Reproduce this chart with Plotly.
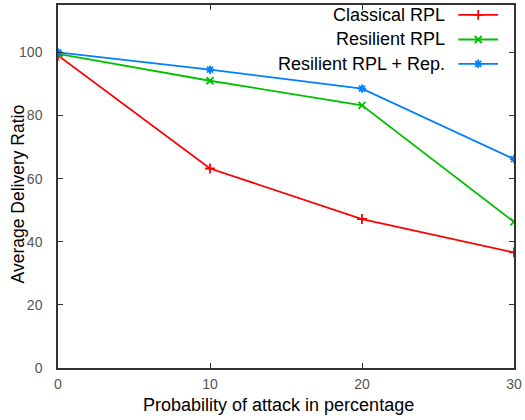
import plotly.graph_objects as go

attack = [0, 10, 20, 30]
classical = [99, 63.2, 47.2, 36.6]
resilient = [99.5, 91, 83.2, 46.3]
resilient_rep = [100, 94.5, 88.5, 66.2]
names = ["Classical RPL", "Resilient RPL", "Resilient RPL + Rep."]
colors = ["#ff0000", "#00c000", "#0080ff"]
symbols = ["cross-thin-open", "x-thin-open", "asterisk-open"]
series = [classical, resilient, resilient_rep]
x_title = "Probability of attack in percentage"
y_title = "Average Delivery Ratio"

# legend layout (paper fractions)
leg_rows = [0.973, 0.905, 0.838]
leg_x0, leg_x1, leg_text_x = 0.878, 0.965, 0.852

FONT = "Liberation Sans, Arial"

fig = go.Figure()
for name, c, s, ys in zip(names, colors, symbols, series):
    fig.add_trace(go.Scatter(x=attack, y=ys, mode="lines+markers", name=name,
                             line=dict(color=c, width=1.8),
                             marker=dict(symbol=s, size=7, color=c, line=dict(color=c, width=1.8)),
                             showlegend=False))

annotations = []
for name, c, s, ry in zip(names, colors, symbols, leg_rows):
    fig.add_trace(go.Scatter(x=[leg_x0, leg_x1], y=[ry, ry], xaxis="x2", yaxis="y2",
                             mode="lines", line=dict(color=c, width=1.8), showlegend=False,
                             hoverinfo="skip"))
    fig.add_trace(go.Scatter(x=[(leg_x0 + leg_x1) / 2], y=[ry], xaxis="x2", yaxis="y2",
                             mode="markers",
                             marker=dict(symbol=s, size=7, color=c, line=dict(color=c, width=1.8)),
                             showlegend=False, hoverinfo="skip"))
    annotations.append(dict(x=leg_text_x, y=ry, xref="paper", yref="paper", text=name,
                            showarrow=False, xanchor="right", yanchor="middle",
                            font=dict(family=FONT, size=18, color="black")))

annotations.append(dict(x=0.484, y=-0.102, xref="paper", yref="paper", text=x_title,
                        showarrow=False, xanchor="center", yanchor="middle",
                        font=dict(family=FONT, size=18, color="black")))
annotations.append(dict(x=-0.087, y=0.479, xref="paper", yref="paper", text=y_title,
                        showarrow=False, xanchor="center", yanchor="middle", textangle=-90,
                        font=dict(family=FONT, size=17.5, color="black")))

axis_common = dict(showgrid=False, zeroline=False, ticks="inside", ticklen=5,
                   mirror="ticks", showline=True, linecolor="#333333", linewidth=1.5,
                   tickcolor="#333333",
                   tickfont=dict(family=FONT, size=14, color="#555555"))

fig.update_layout(
    width=525, height=420,
    margin=dict(l=58, r=8, t=3, b=52),
    paper_bgcolor="white", plot_bgcolor="white",
    xaxis=dict(range=[0, 30], tickvals=[0, 10, 20, 30], ticklabelstandoff=2,
               **axis_common),
    yaxis=dict(range=[0, 115], tickvals=[0, 20, 40, 60, 80, 100], ticklabelstandoff=11,
               **axis_common),
    xaxis2=dict(range=[0, 1], overlaying="x", visible=False, fixedrange=True),
    yaxis2=dict(range=[0, 1], overlaying="y", visible=False, fixedrange=True),
    annotations=annotations,
    showlegend=False,
)
fig.write_html("out.html")
